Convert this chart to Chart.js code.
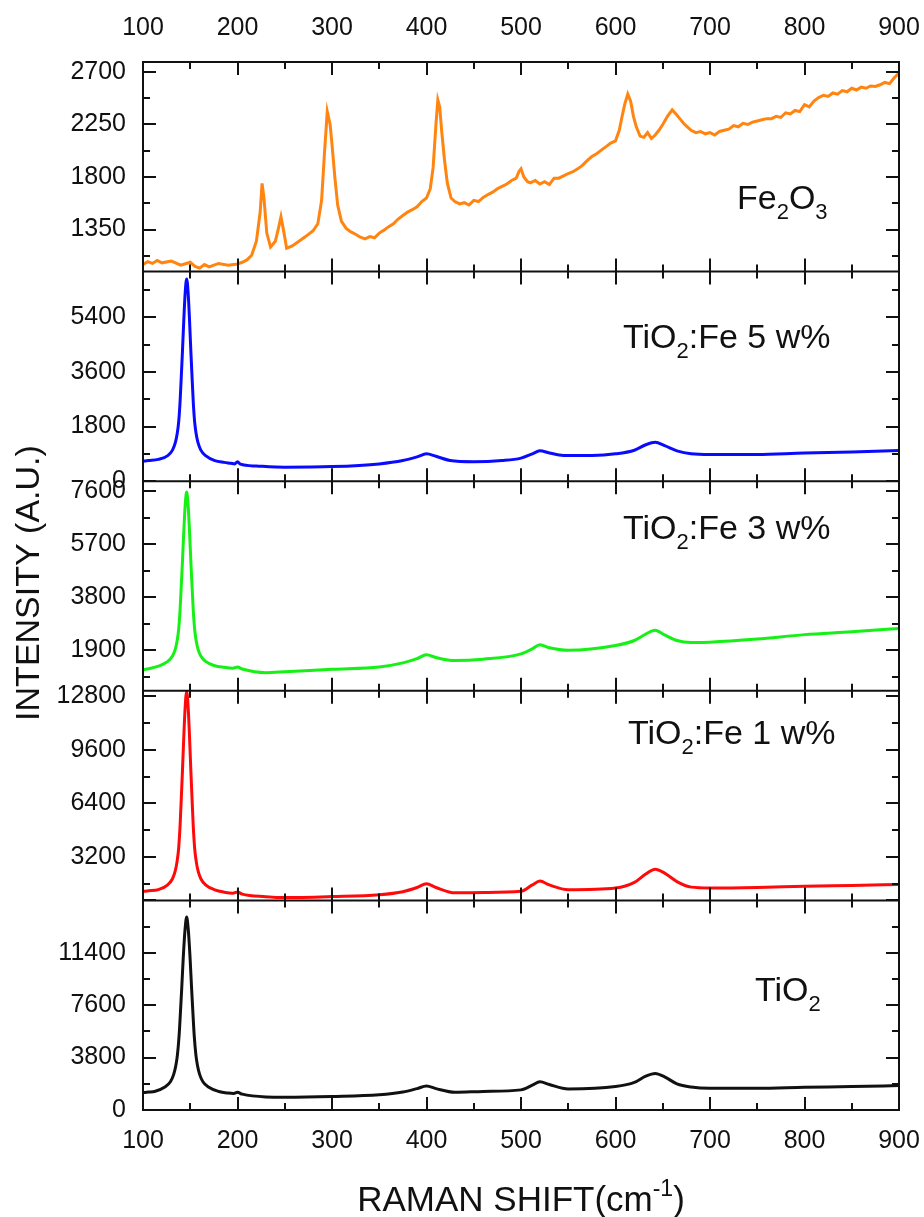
<!DOCTYPE html>
<html>
<head>
<meta charset="utf-8">
<title>Raman spectra</title>
<script src="https://cdn.jsdelivr.net/npm/chart.js@4.4.0/dist/chart.umd.min.js"></script>
<style>
  body { margin: 0; background: #fff; }
  #wrap { width: 924px; height: 1217px; }
</style>
</head>
<body>
<div id="wrap"><canvas id="raman" width="924" height="1217"></canvas></div>
<script>
// tick labels
const xTicks = [100, 200, 300, 400, 500, 600, 700, 800, 900];
const fe2o3Ticks = [1350, 1800, 2250, 2700];
const fe5Ticks = [0, 1800, 3600, 5400];
const fe3Ticks = [1900, 3800, 5700, 7600];
const fe1Ticks = [3200, 6400, 9600, 12800];
const tio2Ticks = [0, 3800, 7600, 11400];

// Fe2O3 spectrum
const fe2o3X = [100, 105, 110, 115, 120, 130, 140, 150, 155, 160, 165, 170, 180, 190, 200, 205, 210, 215, 220, 224,
  226, 228, 231, 235, 240, 243, 246, 249, 252, 258, 265, 272, 280, 285, 289, 292, 295, 298, 300, 303,
  306, 310, 315, 320, 325, 330, 335, 340, 345, 350, 355, 360, 365, 370, 375, 380, 385, 390, 395, 400,
  404, 407, 410, 412, 414, 416, 419, 422, 426, 430, 435, 440, 445, 450, 455, 460, 465, 470, 475, 480,
  485, 490, 495, 498, 500, 503, 507, 510, 515, 520, 525, 530, 535, 540, 545, 550, 555, 560, 565, 570,
  575, 580, 585, 590, 595, 600, 604, 607, 610, 613, 616, 619, 622, 626, 630, 634, 638, 642, 646, 650,
  655, 660, 664, 668, 672, 676, 680, 685, 690, 695, 700, 705, 710, 715, 720, 725, 730, 735, 740, 745,
  750, 755, 760, 765, 770, 775, 780, 785, 790, 795, 800, 805, 810, 815, 820, 825, 830, 835, 840, 845,
  850, 855, 860, 865, 870, 875, 880, 885, 890, 895, 900];
const fe2o3Y = [1050, 1075, 1060, 1085, 1065, 1080, 1045, 1070, 1035, 1020, 1050, 1030, 1060, 1045, 1055, 1070, 1090, 1130, 1250, 1500,
  1745, 1620, 1320, 1200, 1250, 1350, 1460, 1330, 1190, 1210, 1250, 1290, 1340, 1400, 1600, 2000, 2360, 2250, 2080, 1800,
  1560, 1420, 1360, 1330, 1310, 1285, 1270, 1290, 1280, 1320, 1345, 1375, 1400, 1440, 1470, 1500, 1520, 1545, 1590, 1620,
  1700, 1880, 2250, 2460, 2400, 2200, 1950, 1750, 1620, 1590, 1570, 1580, 1560, 1600, 1590, 1625, 1650, 1670, 1700, 1720,
  1740, 1770, 1790, 1850, 1870, 1800, 1760, 1750, 1770, 1740, 1760, 1735, 1790, 1790, 1810, 1830, 1845, 1870, 1900, 1940,
  1975, 2000, 2030, 2060, 2090, 2110, 2200, 2320, 2430, 2510, 2450, 2320, 2230, 2150, 2140, 2180, 2130, 2160, 2200, 2250,
  2320, 2375, 2340, 2300, 2260, 2230, 2200, 2180, 2190, 2170, 2180, 2160, 2190, 2200, 2210, 2240, 2230, 2260, 2250, 2270,
  2280, 2290, 2300, 2300, 2320, 2310, 2350, 2340, 2370, 2360, 2420, 2400, 2450, 2480, 2500, 2490, 2520, 2510, 2540, 2530,
  2560, 2545, 2570, 2560, 2580, 2575, 2590, 2610, 2600, 2650, 2690];

// TiO2:Fe 5 w%
const fe5X = [100, 106, 116.2, 126.2, 131.2, 134.2, 136.2, 137.7, 139.2, 140.7, 141.7, 143.2, 144.7, 146.2, 147.7, 149.2, 150.7, 151.7, 153.2, 154.7,
  156.2, 158.2, 161.2, 166.2, 176, 186, 193, 197, 200, 203, 220, 250, 300, 350, 375, 390, 400, 410, 425, 450,
  480, 500, 512, 520, 530, 545, 575, 600, 620, 632, 642, 652, 665, 680, 700, 750, 800, 850, 900];
const fe5Y = [660, 680, 720, 842, 1024, 1267, 1570, 1933, 2600, 3569, 4236, 5327, 6236, 6660, 6236, 5327, 4236, 3569, 2600, 1933,
  1570, 1267, 1024, 842, 680, 620, 590, 570, 640, 560, 500, 460, 480, 570, 680, 800, 900, 820, 680, 640,
  680, 760, 900, 1000, 930, 850, 850, 900, 1020, 1200, 1280, 1170, 1000, 900, 875, 880, 930, 960, 1010];

// TiO2:Fe 3 w%
const fe3X = [100, 106, 116.2, 126.2, 131.2, 134.2, 136.2, 137.7, 139.2, 140.7, 141.7, 143.2, 144.7, 146.2, 147.7, 149.2, 150.7, 151.7, 153.2, 154.7,
  156.2, 158.2, 161.2, 166.2, 176, 186, 195, 200, 205, 230, 250, 300, 350, 375, 390, 400, 410, 430, 460, 500,
  512, 520, 530, 550, 600, 620, 632, 642, 652, 665, 680, 700, 750, 800, 850, 900];
const fe3Y = [1200, 1240, 1330, 1502, 1692, 1944, 2260, 2638, 3332, 4342, 5036, 6172, 7118, 7560, 7118, 6172, 5036, 4342, 3332, 2638,
  2260, 1944, 1692, 1502, 1345, 1290, 1260, 1300, 1230, 1100, 1130, 1220, 1300, 1450, 1600, 1740, 1640, 1530, 1580, 1770,
  1950, 2100, 1990, 1900, 2070, 2250, 2480, 2620, 2450, 2250, 2180, 2190, 2300, 2460, 2560, 2680];

// TiO2:Fe 1 w%
const fe1X = [100, 106, 116.2, 126.2, 131.2, 134.2, 136.2, 137.7, 139.2, 140.7, 141.7, 143.2, 144.7, 146.2, 147.7, 149.2, 150.7, 151.7, 153.2, 154.7,
  156.2, 158.2, 161.2, 166.2, 176, 186, 195, 200, 205, 230, 250, 300, 350, 375, 390, 400, 410, 430, 460, 500,
  512, 520, 530, 550, 600, 620, 632, 642, 652, 665, 680, 700, 750, 800, 850, 900];
const fe1Y = [1170, 1200, 1270, 1559, 1918, 2397, 2995, 3713, 5030, 6945, 8262, 10417, 12212, 13050, 12212, 10417, 8262, 6945, 5030, 3713,
  2995, 2397, 1918, 1559, 1260, 1120, 1060, 1130, 1000, 850, 800, 860, 970, 1150, 1400, 1615, 1400, 1080, 1100, 1170,
  1550, 1780, 1550, 1270, 1370, 1700, 2200, 2490, 2250, 1750, 1420, 1370, 1400, 1470, 1520, 1575];

// TiO2
const tio2X = [100, 106, 112.2, 123.2, 129, 132.4, 134.7, 136.4, 138.2, 139.9, 141, 142.7, 144.5, 146.2, 147.9, 149.7, 151.4, 152.5, 154.2, 156,
  157.7, 160, 163.4, 169.2, 180.2, 190, 196, 200, 205, 230, 250, 300, 350, 375, 390, 400, 410, 430, 460, 500,
  512, 520, 530, 550, 600, 620, 632, 642, 652, 665, 680, 700, 750, 800, 850, 900];
const tio2Y = [1260, 1300, 1343, 1664, 2050, 2563, 3206, 3977, 5390, 7447, 8860, 11173, 13100, 14000, 13100, 11173, 8860, 7447, 5390, 3977,
  3206, 2563, 2050, 1664, 1343, 1230, 1200, 1280, 1150, 950, 930, 980, 1100, 1300, 1550, 1740, 1550, 1290, 1350, 1460,
  1800, 2050, 1850, 1530, 1700, 2000, 2450, 2650, 2400, 1900, 1670, 1580, 1580, 1650, 1700, 1770];

// panel names, split into [text, subscript?] parts
const fe2o3Name = [['Fe', 0], ['2', 1], ['O', 0], ['3', 1]];
const fe5Name = [['TiO', 0], ['2', 1], [':Fe 5 w%', 0]];
const fe3Name = [['TiO', 0], ['2', 1], [':Fe 3 w%', 0]];
const fe1Name = [['TiO', 0], ['2', 1], [':Fe 1 w%', 0]];
const tio2Name = [['TiO', 0], ['2', 1]];

const FONT = '"Liberation Sans", Arial, Helvetica, sans-serif';
Chart.defaults.font.family = FONT;
Chart.defaults.color = '#111';

// one stacked y axis per panel, top to bottom
const panels = [
  {id: 'yFe2O3', xs: fe2o3X, ys: fe2o3Y, ticks: fe2o3Ticks, name: fe2o3Name, min: 990, max: 2785, color: '#ff8410', smooth: false, lx: 737, ly: 147},
  {id: 'yFe5', xs: fe5X, ys: fe5Y, ticks: fe5Ticks, name: fe5Name, min: 0, max: 6900, color: '#0a0aff', smooth: true, lx: 623, ly: 76},
  {id: 'yFe3', xs: fe3X, ys: fe3Y, ticks: fe3Ticks, name: fe3Name, min: 450, max: 7950, color: '#16f016', smooth: true, lx: 623, ly: 58},
  {id: 'yFe1', xs: fe1X, ys: fe1Y, ticks: fe1Ticks, name: fe1Name, min: 630, max: 13100, color: '#ff0a0a', smooth: true, lx: 628, ly: 53},
  {id: 'yTiO2', xs: tio2X, ys: tio2Y, ticks: tio2Ticks, name: tio2Name, min: 0, max: 15200, color: '#111111', smooth: true, lx: 755, ly: 101}
];

function pts(xs, ys) {
  return xs.map((x, i) => ({x: x, y: ys[i]}));
}

const tickFont = {size: 25};

// fixed box sizes so the plot area sits where the reference has it
function fitX(height) {
  return s => {
    s.height = height;
    s.paddingLeft = 0;
    s.paddingRight = 0;
  };
}

const scales = {
  x: {
    type: 'linear', position: 'bottom', min: 100, max: 900,
    grid: {display: false, drawTicks: false}, border: {display: false},
    ticks: {font: tickFont, padding: 16, autoSkip: false, maxRotation: 0},
    afterBuildTicks: s => { s.ticks = xTicks.map(v => ({value: v})); },
    afterFit: fitX(107)
  },
  xTop: {
    type: 'linear', position: 'top', min: 100, max: 900,
    grid: {display: false, drawTicks: false}, border: {display: false},
    ticks: {font: tickFont, padding: 19, autoSkip: false, maxRotation: 0},
    afterBuildTicks: s => { s.ticks = xTicks.map(v => ({value: v})); },
    afterFit: fitX(62)
  }
};

panels.forEach((p, i) => {
  scales[p.id] = {
    type: 'linear', position: 'left', stack: 'raman', stackWeight: 1,
    weight: panels.length - i,
    min: p.min, max: p.max,
    grid: {display: false, drawTicks: false}, border: {display: false},
    ticks: {font: tickFont, padding: 17, callback: v => String(v)},
    afterBuildTicks: s => { s.ticks = p.ticks.map(v => ({value: v})); },
    afterFit: s => { s.width = 143; }
  };
});

function drawParts(ctx, parts, x, y, size, shift) {
  parts.forEach(part => {
    const small = part[1];
    ctx.font = (small ? Math.round(size * 0.66) : size) + 'px ' + FONT;
    ctx.fillText(part[0], x, small ? y + shift : y);
    x += ctx.measureText(part[0]).width;
  });
  return x;
}

function partsWidth(ctx, parts, size) {
  let w = 0;
  parts.forEach(part => {
    ctx.font = (part[1] ? Math.round(size * 0.66) : size) + 'px ' + FONT;
    w += ctx.measureText(part[0]).width;
  });
  return w;
}

// frame, inward ticks, panel names and axis titles
const framePlugin = {
  id: 'frame',
  afterDatasetsDraw(chart) {
    const ctx = chart.ctx;
    const xs = chart.scales.x;
    const left = chart.chartArea.left;
    const right = chart.chartArea.right;
    ctx.save();
    ctx.strokeStyle = '#111';
    ctx.lineWidth = 2;
    ctx.beginPath();
    panels.forEach(p => {
      const ys = chart.scales[p.id];
      const top = ys.top, bottom = ys.bottom;
      ctx.rect(left, top, right - left, bottom - top);
      for (let v = xs.min; v <= xs.max; v += 50) {
        const px = Math.round(xs.getPixelForValue(v));
        const len = v % 100 === 0 ? 13 : 7;
        ctx.moveTo(px, bottom); ctx.lineTo(px, bottom - len);
        ctx.moveTo(px, top); ctx.lineTo(px, top + len);
      }
      const step = p.ticks[1] - p.ticks[0];
      let v0 = p.ticks[0];
      while (v0 - step / 2 >= ys.min) v0 -= step / 2;
      for (let v = v0; v <= ys.max; v += step / 2) {
        const py = Math.round(ys.getPixelForValue(v));
        const major = Math.abs((v - p.ticks[0]) % step) < 1e-6;
        const len = major ? 13 : 7;
        ctx.moveTo(left, py); ctx.lineTo(left + len, py);
        ctx.moveTo(right, py); ctx.lineTo(right - len, py);
      }
    });
    ctx.stroke();

    ctx.fillStyle = '#111';
    ctx.textAlign = 'left';
    ctx.textBaseline = 'alphabetic';
    panels.forEach(p => {
      const ys = chart.scales[p.id];
      drawParts(ctx, p.name, p.lx, ys.top + p.ly, 34, 10);
    });

    // x title with superscript
    const xTitle = [['RAMAN SHIFT(cm', 0], ['-1', 1], [')', 0]];
    const tw = partsWidth(ctx, xTitle, 35);
    drawParts(ctx, xTitle, (left + right) / 2 - tw / 2, 1211, 35, -15);

    // y title
    ctx.translate(30, 583);
    ctx.rotate(-Math.PI / 2);
    ctx.textAlign = 'center';
    ctx.textBaseline = 'middle';
    ctx.font = '34px ' + FONT;
    ctx.fillText('INTENSITY (A.U.)', 0, 0);
    ctx.restore();
  }
};

new Chart('raman', {
  type: 'line',
  data: {
    datasets: panels.map(p => ({
      label: p.name.map(part => part[0]).join(''),
      data: pts(p.xs, p.ys),
      xAxisID: 'x',
      yAxisID: p.id,
      borderColor: p.color,
      borderWidth: 3,
      pointRadius: 0,
      fill: false,
      cubicInterpolationMode: p.smooth ? 'monotone' : 'default',
      tension: 0
    }))
  },
  options: {
    responsive: false,
    animation: false,
    layout: {padding: {left: 0, right: 25, top: 0, bottom: 0}},
    scales: scales,
    plugins: {
      legend: {display: false},
      tooltip: {enabled: false}
    }
  },
  plugins: [framePlugin]
});
</script>
</body>
</html>
